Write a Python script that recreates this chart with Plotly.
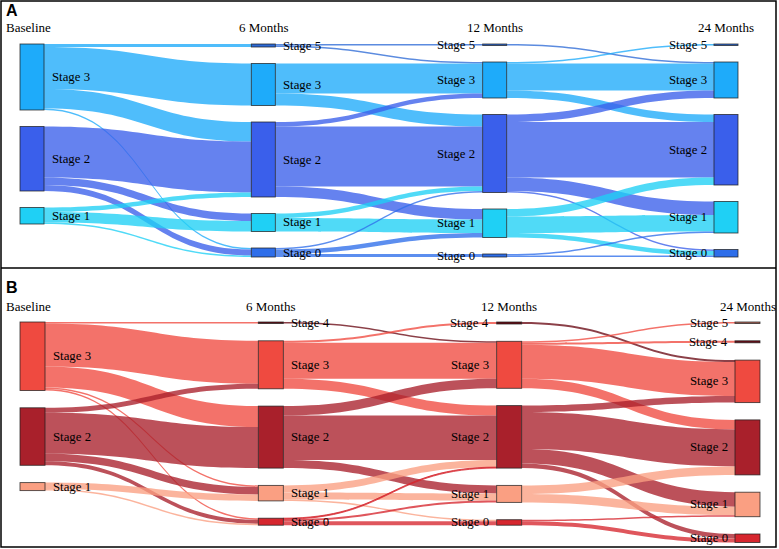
import plotly.graph_objects as go

# ---------------- data ----------------
column_titles = ["Baseline", "6 Months", "12 Months", "24 Months"]

# Panel A: nodes in each column (top to bottom)
a_columns = [
    ["Stage 3", "Stage 2", "Stage 1"],
    ["Stage 5", "Stage 3", "Stage 2", "Stage 1", "Stage 0"],
    ["Stage 5", "Stage 3", "Stage 2", "Stage 1", "Stage 0"],
    ["Stage 5", "Stage 3", "Stage 2", "Stage 1", "Stage 0"],
]
# flows (source stage, target stage, value)
a_base_to_6m = [
    ("Stage 3", "Stage 5", 2), ("Stage 3", "Stage 3", 28), ("Stage 3", "Stage 2", 13), ("Stage 3", "Stage 0", 1),
    ("Stage 2", "Stage 2", 34), ("Stage 2", "Stage 1", 5), ("Stage 2", "Stage 0", 4),
    ("Stage 1", "Stage 2", 3), ("Stage 1", "Stage 1", 7), ("Stage 1", "Stage 0", 1),
]
a_6m_to_12m = [
    ("Stage 5", "Stage 5", 1), ("Stage 5", "Stage 3", 1),
    ("Stage 3", "Stage 3", 20), ("Stage 3", "Stage 2", 8),
    ("Stage 2", "Stage 3", 3), ("Stage 2", "Stage 2", 40), ("Stage 2", "Stage 1", 7),
    ("Stage 1", "Stage 2", 3), ("Stage 1", "Stage 1", 9),
    ("Stage 0", "Stage 2", 1), ("Stage 0", "Stage 1", 3), ("Stage 0", "Stage 0", 2),
]
a_12m_to_24m = [
    ("Stage 5", "Stage 3", 1),
    ("Stage 3", "Stage 5", 1), ("Stage 3", "Stage 3", 18), ("Stage 3", "Stage 2", 5),
    ("Stage 2", "Stage 3", 5), ("Stage 2", "Stage 2", 37), ("Stage 2", "Stage 1", 9), ("Stage 2", "Stage 0", 1),
    ("Stage 1", "Stage 2", 5), ("Stage 1", "Stage 1", 11), ("Stage 1", "Stage 0", 3),
    ("Stage 0", "Stage 1", 1), ("Stage 0", "Stage 0", 1),
]

# Panel B
b_columns = [
    ["Stage 3", "Stage 2", "Stage 1"],
    ["Stage 4", "Stage 3", "Stage 2", "Stage 1", "Stage 0"],
    ["Stage 4", "Stage 3", "Stage 2", "Stage 1", "Stage 0"],
    ["Stage 5", "Stage 4", "Stage 3", "Stage 2", "Stage 1", "Stage 0"],
]
b_base_to_6m = [
    ("Stage 3", "Stage 4", 1.5), ("Stage 3", "Stage 3", 43), ("Stage 3", "Stage 2", 21),
    ("Stage 3", "Stage 1", 1.5), ("Stage 3", "Stage 0", 1.5),
    ("Stage 2", "Stage 3", 5), ("Stage 2", "Stage 2", 41), ("Stage 2", "Stage 1", 7.5), ("Stage 2", "Stage 0", 4),
    ("Stage 1", "Stage 1", 6.5), ("Stage 1", "Stage 0", 1.5),
]
b_6m_to_12m = [
    ("Stage 4", "Stage 3", 1.5),
    ("Stage 3", "Stage 4", 2), ("Stage 3", "Stage 3", 36), ("Stage 3", "Stage 2", 10),
    ("Stage 2", "Stage 3", 9.5), ("Stage 2", "Stage 2", 44.5), ("Stage 2", "Stage 1", 8),
    ("Stage 1", "Stage 2", 7), ("Stage 1", "Stage 1", 7), ("Stage 1", "Stage 0", 1.5),
    ("Stage 0", "Stage 2", 1), ("Stage 0", "Stage 1", 2), ("Stage 0", "Stage 0", 4),
]
b_12m_to_24m = [
    ("Stage 4", "Stage 3", 2),
    ("Stage 3", "Stage 5", 1.5), ("Stage 3", "Stage 4", 2), ("Stage 3", "Stage 3", 34), ("Stage 3", "Stage 2", 9.5),
    ("Stage 2", "Stage 3", 6.5), ("Stage 2", "Stage 2", 37), ("Stage 2", "Stage 1", 14.5), ("Stage 2", "Stage 0", 4.5),
    ("Stage 1", "Stage 2", 8.5), ("Stage 1", "Stage 1", 8.5),
    ("Stage 0", "Stage 1", 1.5), ("Stage 0", "Stage 0", 4),
]

# ---------------- styles ----------------
a_colors = {"Stage 5": (45, 106, 214), "Stage 3": (30, 171, 250), "Stage 2": (58, 95, 235),
            "Stage 1": (31, 208, 245), "Stage 0": (46, 110, 234)}
b_colors = {"Stage 5": (184, 106, 92), "Stage 4": (106, 10, 20), "Stage 3": (239, 74, 64),
            "Stage 2": (169, 32, 43), "Stage 1": (250, 159, 130), "Stage 0": (214, 38, 46)}
LINK_ALPHA = 0.78
FIG_W, FIG_H = 779, 549
SERIF = "Times New Roman, Liberation Serif, serif"
LABEL_GAP = 5.5
LABEL_SIZE = 12.8
TITLE_SIZE = 13


def build_sankey(columns, transitions, colors, x0px, x1px, y0px, y1px, pad, thickness):
    labels, ncolors, idx = [], [], {}
    for c, names in enumerate(columns):
        for n in names:
            idx[(c, n)] = len(labels)
            labels.append(n)
            ncolors.append("rgb(%d,%d,%d)" % colors[n])
    inflow = [0.0] * len(labels)
    outflow = [0.0] * len(labels)
    src, tgt, val, lcol = [], [], [], []
    for c, trans in enumerate(transitions):
        for s, t, v in trans:
            i, j = idx[(c, s)], idx[(c + 1, t)]
            src.append(i); tgt.append(j); val.append(v)
            outflow[i] += v; inflow[j] += v
            r, g, b = colors[s]
            lcol.append("rgba(%d,%d,%d,%.2f)" % (r, g, b, LINK_ALPHA))
    nval = [max(a, b) for a, b in zip(inflow, outflow)]
    W = x1px - x0px
    H = y1px - y0px
    # same vertical scale rule as the sankey layout
    ky = min((H - (len(names) - 1) * pad) / sum(nval[idx[(c, n)]] for n in names)
             for c, names in enumerate(columns))
    xs, ys = [0.0] * len(labels), [0.0] * len(labels)
    ncols = len(columns)
    label_annots = []
    for c, names in enumerate(columns):
        y = 0.0
        cx = thickness / 2 + c * (W - thickness) / (ncols - 1)
        for n in names:
            k = idx[(c, n)]
            h = nval[k] * ky
            xs[k] = cx / W
            ys[k] = (y + h / 2) / H
            cy_px = y0px + y + h / 2
            if c < ncols / 2:
                ax, anchor = x0px + cx + thickness / 2 + LABEL_GAP, "left"
            else:
                ax, anchor = x0px + cx - thickness / 2 - LABEL_GAP, "right"
            label_annots.append(dict(x=ax / FIG_W, y=1 - cy_px / FIG_H, xref="paper", yref="paper",
                                     text=n, showarrow=False, xanchor=anchor, yanchor="middle",
                                     font=dict(family=SERIF, size=LABEL_SIZE, color="#000000")))
            y += h + pad
    trace = go.Sankey(
        arrangement="fixed",
        domain=dict(x=[x0px / FIG_W, x1px / FIG_W], y=[1 - y1px / FIG_H, 1 - y0px / FIG_H]),
        node=dict(label=[""] * len(labels), color=ncolors, x=xs, y=ys, pad=pad, thickness=thickness,
                  line=dict(color="rgba(30,30,30,0.8)", width=0.9)),
        link=dict(source=src, target=tgt, value=val, color=lcol),
        hoverinfo="none",
    )
    centers = [x0px + thickness / 2 + c * (W - thickness) / (ncols - 1) for c in range(ncols)]
    return trace, centers, label_annots


trace_a, cent_a, lab_a = build_sankey(a_columns, [a_base_to_6m, a_6m_to_12m, a_12m_to_24m], a_colors,
                                      20, 738, 44, 257, 16.5, 24)
trace_b, cent_b, lab_b = build_sankey(b_columns, [b_base_to_6m, b_6m_to_12m, b_12m_to_24m], b_colors,
                                      20, 760, 322, 542.5, 17.3, 25)

fig = go.Figure([trace_a, trace_b])

annotations = lab_a + lab_b
for centers, ytitle in ((cent_a, 28), (cent_b, 306)):
    for c, title in enumerate(column_titles):
        if c == 0:
            xa, anchor = 4, "left"
        else:
            xa, anchor = centers[c], "center"
        annotations.append(dict(x=xa / FIG_W, y=1 - ytitle / FIG_H, xref="paper", yref="paper",
                                text=title, showarrow=False, xanchor=anchor, yanchor="middle",
                                font=dict(family=SERIF, size=TITLE_SIZE, color="#000000")))
for lab, ypx in (("A", 11), ("B", 287)):
    annotations.append(dict(x=4 / FIG_W, y=1 - ypx / FIG_H, xref="paper", yref="paper",
                            text="<b>%s</b>" % lab, showarrow=False, xanchor="left", yanchor="middle",
                            font=dict(family="Arial, Liberation Sans, sans-serif", size=16, color="#000000")))

shapes = [
    dict(type="rect", xref="paper", yref="paper", x0=1 / FIG_W, x1=776 / FIG_W,
         y0=1 - 547 / FIG_H, y1=1 - 1 / FIG_H, line=dict(color="#000000", width=1.5)),
    dict(type="line", xref="paper", yref="paper", x0=1 / FIG_W, x1=776 / FIG_W,
         y0=1 - 268 / FIG_H, y1=1 - 268 / FIG_H, line=dict(color="#000000", width=1.5)),
]

fig.update_layout(width=FIG_W, height=FIG_H, margin=dict(l=0, r=0, t=0, b=0),
                  paper_bgcolor="white", plot_bgcolor="white",
                  annotations=annotations, shapes=shapes, showlegend=False)

fig.write_html("out.html", config={"displayModeBar": False},
               post_script="document.body.style.margin='0px';")
